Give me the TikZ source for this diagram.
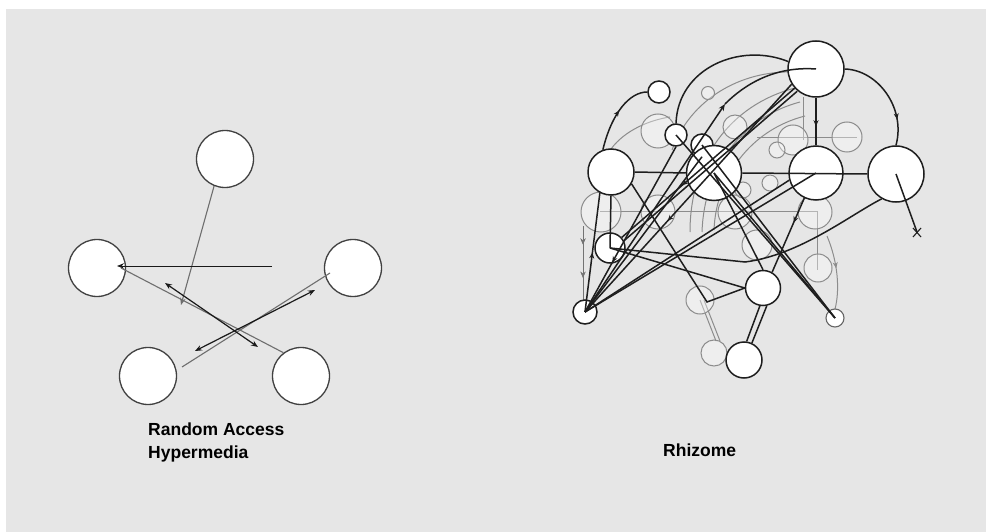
\documentclass[tikz,border=0pt]{standalone}
\usepackage{fontspec}
\setmainfont{Liberation Sans}
\usetikzlibrary{arrows.meta,decorations.markings,calc}
\definecolor{paper}{RGB}{230,230,230}
\definecolor{ink}{RGB}{30,30,30}
\definecolor{greyline}{RGB}{110,110,110}
\definecolor{ghostgrey}{RGB}{140,140,140}

\begin{document}
\begin{tikzpicture}[x=1pt,y=-1pt,
  tip/.tip={Stealth[length=7pt,width=5.5pt]},
  bub/.style={circle, draw=ink, line width=1.5pt, fill=white, inner sep=0pt, minimum size=#1},
  lbub/.style={circle, draw=black!75, line width=1.3pt, fill=white, inner sep=0pt, minimum size=57pt},
  ghost/.style={circle, draw=ghostgrey, line width=1pt, fill=white, fill opacity=0.35, inner sep=0pt, minimum size=#1},
  ghostline/.style={draw=ghostgrey, line width=1pt},
  blk/.style={draw=ink, line width=1.5pt},
  thinblk/.style={draw=black!90, line width=1pt},
  greyconn/.style={draw=greyline, line width=1.1pt},
  midarrow/.style={postaction={decorate}, decoration={markings,
      mark=at position #1 with {\arrow{Stealth[length=6pt,width=5pt]}}}},
  midarrowrev/.style={postaction={decorate}, decoration={markings,
      mark=at position #1 with {\arrowreversed{Stealth[length=6pt,width=5pt]}}}},
  caption/.style={anchor=base west, inner sep=0pt, font=\bfseries\fontsize{17.5}{21}\selectfont}
]
\useasboundingbox (0,0) rectangle (986,532);
\fill[white] (0,0) rectangle (986,532);
\fill[paper] (6,9) rectangle (986,532);

% ---------------- Random access hypermedia ----------------
\node[lbub] (ta)  at (225,159) {};
\node[lbub] (la)  at (97,268) {};
\node[lbub] (ra)  at (353,268) {};
\node[lbub] (bla) at (148,376) {};
\node[lbub] (bra) at (301,376) {};

\coordinate (a1) at (181,305);
\coordinate (a2) at (272,266);
\coordinate (a3) at (182,367);
\coordinate (d1) at (165,283);
\coordinate (d2) at (258,347);
\coordinate (d3) at (195,351);
\coordinate (d4) at (315,290);

\draw[greyconn, -tip] (ta.-112) -- (a1);
\draw[thinblk, -tip] (a2) -- ($(la.center)+(20,-2)$);
\draw[greyconn] ($(la.center)+(24,0)$) -- (bra.127);
\draw[greyconn] (a3) -- ($(ra.center)+(-23,5)$);
\draw[thinblk, line width=1.2pt, tip-tip] (d1) -- (d2);
\draw[thinblk, line width=1.2pt, tip-tip] (d3) -- (d4);

\node[caption] (cap1) at (148,435) {Random Access};
\node[caption] (cap2) at (148,458) {Hypermedia};

% ---------------- Rhizome: faint earlier layer ----------------
\draw[ghostline] (611,149) .. controls (625,130) and (650,120) .. (670,117);
\draw[ghostline] (672,150) .. controls (690,100) and (740,70) .. (795,72);
\draw[ghostline] (690,232) .. controls (690,160) and (730,105) .. (795,88);
\draw[ghostline] (702,232) .. controls (704,170) and (740,118) .. (800,102);
\draw[ghostline] (714,230) .. controls (716,178) and (750,130) .. (805,116);
\draw[ghostline] (600,212) -- (817,212) -- (817,270);
\draw[ghostline] (757,138) -- (857,138);
\draw[ghostline] (803,97) -- (803,140);
\draw[ghostline, midarrow=0.45] (827,236) .. controls (838,262) and (840,290) .. (835,309);
\draw[ghostline] (700,300) -- (716,341);
\draw[ghostline] (704,300) -- (720,341);
\draw[ghostline, draw=black!55, midarrowrev=0.3, midarrowrev=0.75] (583,300) -- (583,226);

\node[ghost=40pt] (g1)  at (601,212) {};
\node[ghost=34pt] (g2)  at (658,212) {};
\node[ghost=34pt] (g3)  at (735,212) {};
\node[ghost=34pt] (g4)  at (815,212) {};
\node[ghost=28pt] (g5)  at (818,268) {};
\node[ghost=30pt] (g6)  at (757,245) {};
\node[ghost=28pt] (g7)  at (700,300) {};
\node[ghost=26pt] (g8)  at (714,353) {};
\node[ghost=34pt] (g9)  at (658,131) {};
\node[ghost=13pt] (g10) at (708,93) {};
\node[ghost=30pt] (g11) at (793,140) {};
\node[ghost=30pt] (g12) at (847,137) {};
\node[ghost=24pt] (g13) at (735,127) {};
\node[ghost=16pt] (g14) at (777,150) {};
\node[ghost=16pt] (g15) at (743,190) {};
\node[ghost=16pt] (g16) at (770,183) {};

% ---------------- Rhizome: nodes ----------------
\node[bub=56pt] (T)  at (816,69) {};
\node[bub=22pt] (S1) at (659,92) {};
\node[bub=22pt] (S2) at (676,135) {};
\node[bub=22pt] (S3) at (702,145) {};
\node[bub=46pt] (L)  at (611,172) {};
\node[bub=55pt] (C)  at (714,173) {};
\node[bub=54pt] (RC) at (816,173) {};
\node[bub=56pt] (R)  at (896,174) {};
\node[bub=30pt] (LS) at (610,248) {};
\node[bub=24pt] (BL) at (585,312) {};
\node[bub=35pt] (B)  at (763,288) {};
\node[bub=36pt] (BB) at (744,360) {};
\node[bub=18pt, draw=black!60, line width=1.1pt] (BR) at (835,318) {};

% ---------------- Rhizome: connections ----------------
\coordinate (P1) at (725,104);
\coordinate (K)  at (745,262);
\coordinate (V)  at (707,302);
\coordinate (RX) at (917,232);

\draw[blk, midarrow=0.55] (L.110) .. controls (612,112) and (630,92) .. (S1.west);
\draw[blk] (S2.north) .. controls (678,68) and (740,42) .. (T.165);
\draw[blk, midarrow=0.75] (T.east) .. controls (878,70) and (906,108) .. (R.north);
\draw[blk, midarrow=0.6] (T.south) -- (RC.north);
\draw[blk] (L.east) -- (C.west);
\draw[blk] (C.east) -- (R.west);
\draw[blk, -tip] (BL.center) -- (P1);
\draw[blk] (P1) .. controls (745,84) and (775,66) .. (T.center);
\draw[blk] (C.center) -- (B.north);
\draw[blk] (R.center) -- (RX);
\draw[blk, line width=1.1pt] ($(RX)+(-4,-4)$) -- ($(RX)+(4,5)$) ($(RX)+(4,-4)$) -- ($(RX)+(-4,5)$);
\draw[blk] (R.240) .. controls (850,215) and (800,255) .. (K) -- (LS.center);
\draw[blk] (L.south) -- (LS.center);
\draw[blk] (LS.center) -- (B.west);
\draw[blk, midarrow=0.5] (BL.center) -- (L.-118);
\draw[blk, midarrowrev=0.3] (BL.center) -- (S2.south);
\draw[blk] (BL.center) -- (S3.south);
\draw[blk] (BL.center) -- (RC.center);
\draw[blk] (BL.center) -- (RC.195);
\draw[blk, midarrow=0.65] (T.-138) -- (LS.42);
\draw[blk, transform canvas={shift={(2.6pt,-3pt)}}] (T.-138) -- (LS.42);
\draw[blk, midarrow=0.6] (T.-148) -- (BL.center);
\draw[blk] (C.center) -- (BR.center);
\draw[blk] (S3.center) -- (BR.center);
\draw[blk] (S2.center) -- (BR.center);
\draw[blk, midarrow=0.33] (RC.-115) -- (B.60);
\draw[blk] (B.-100) -- (BB.82);
\draw[blk] (B.-78) -- (BB.65);
\draw[blk] (L.-30) -- (V) -- (B.west);

\node[caption] (cap3) at (663,456) {Rhizome};
\end{tikzpicture}
\end{document}
